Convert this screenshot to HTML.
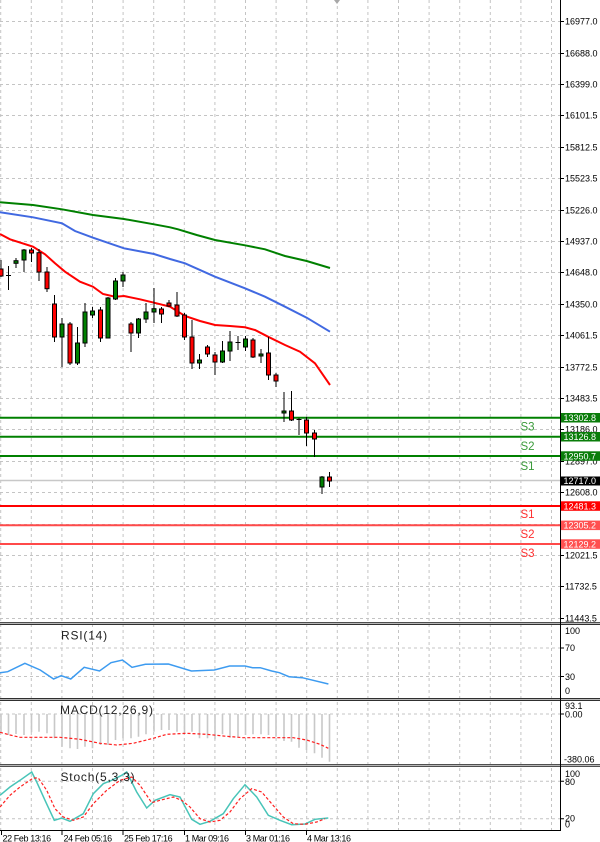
<!DOCTYPE html>
<html><head><meta charset="utf-8"><style>
html,body{margin:0;padding:0;background:#fff;}
svg{display:block;}
text{font-family:"Liberation Sans",sans-serif;}
.ax{font-size:9px;fill:#000;}
.bx{font-size:9px;fill:#fff;}
.pl{font-size:12px;fill:#222;letter-spacing:0.8px;}
.xl{font-size:9px;fill:#000;letter-spacing:-0.4px;}
</style></head><body>
<svg width="600" height="842" viewBox="0 0 600 842" xmlns="http://www.w3.org/2000/svg">
<rect width="600" height="842" fill="#fff"/>
<!-- vertical grid -->
<g stroke="#c4c4c4" stroke-width="1" stroke-dasharray="3,3" fill="none">
<path d="M0.7 0V830M31.3 0V830M61.9 0V830M92.5 0V830M123.1 0V830M153.7 0V830M184.3 0V830M214.9 0V830M245.5 0V830M276.1 0V830M306.7 0V830M337.3 0V830M367.9 0V830M398.5 0V830M429.1 0V830M459.7 0V830M490.3 0V830M520.9 0V830M551.5 0V830"/>
<path d="M0 21.5H560M0 53.5H560M0 84.5H560M0 115.5H560M0 147.5H560M0 178.5H560M0 210.5H560M0 241.5H560M0 272.5H560M0 304.5H560M0 335.5H560M0 367.5H560M0 398.5H560M0 429.5H560M0 461.5H560M0 492.5H560M0 524.5H560M0 555.5H560M0 586.5H560M0 618.5H560"/>
<path d="M0 648H560M0 676.5H560M0 714H560M0 781.3H560M0 818.7H560"/>
</g>
<!-- top marker -->
<path d="M334 0L340 0L337 4Z" fill="#a8a8a8"/>
<!-- moving averages -->
<polyline fill="none" stroke="#008000" stroke-width="2" points="0,202.3 33,205 62,209.3 93,215 124,219 154,224.3 170,227.3 178,229.3 196.7,235 215,240 245,245.3 265,249.3 285,256 306.7,261 330,268"/>
<polyline fill="none" stroke="#4169e1" stroke-width="2" points="0,212.3 33,217.3 62,223.3 75,231 93,237.7 124,248.3 154,254 170,259 185,263.3 215,276.7 245,288.3 265,296.7 285,306.7 306.7,317.7 330,331.7"/>
<polyline fill="none" stroke="#ff0000" stroke-width="2" points="0,234 10,239.3 33,246.7 45,254.3 55,263.3 65,271.7 80,281.7 93,286.7 103,294 115,296.7 124,296 140,299.3 154,302.7 170,306.7 185,316 200,321 215,325 230,326 245,327.3 255,330 268,336.7 285,345 300,351.7 315,363.3 330,385"/>
<!-- current price line -->
<line x1="0" y1="480.5" x2="560" y2="480.5" stroke="#c8c8c8" stroke-width="1.5"/>
<!-- S/R lines -->
<g stroke-width="2">
<line x1="0" y1="417.7" x2="560" y2="417.7" stroke="#008000"/>
<line x1="0" y1="436.7" x2="560" y2="436.7" stroke="#008000"/>
<line x1="0" y1="456" x2="560" y2="456" stroke="#008000"/>
<line x1="0" y1="506" x2="560" y2="506" stroke="#ff0000"/>
<line x1="0" y1="525.3" x2="560" y2="525.3" stroke="#ff4a4a"/>
<line x1="0" y1="544" x2="560" y2="544" stroke="#ff4a4a"/>
</g>
<!-- candles -->
<g stroke="#000" stroke-width="1">
<line x1="1" y1="260" x2="1" y2="277"/><rect x="-1" y="269" width="4" height="7" fill="#ff0000"/>
<line x1="8.5" y1="266" x2="8.5" y2="290"/><line x1="6" y1="275.5" x2="11" y2="275.5"/>
<line x1="16" y1="258" x2="16" y2="268"/><rect x="14" y="260.7" width="4" height="2.6" fill="#008000"/>
<line x1="24" y1="249" x2="24" y2="272"/><rect x="22" y="250" width="4" height="10" fill="#008000"/>
<line x1="31.5" y1="248" x2="31.5" y2="262"/><rect x="29.5" y="250" width="4" height="3" fill="#ff0000"/>
<line x1="39" y1="249" x2="39" y2="281"/><rect x="37" y="252.7" width="4" height="19.3" fill="#ff0000"/>
<line x1="47" y1="267" x2="47" y2="292"/><rect x="45" y="272" width="4" height="16.7" fill="#ff0000"/>
<line x1="54.5" y1="295" x2="54.5" y2="342"/><rect x="52.5" y="304" width="4" height="33" fill="#ff0000"/>
<line x1="62" y1="318" x2="62" y2="367"/><rect x="60" y="324" width="4" height="13" fill="#008000"/>
<line x1="70" y1="322" x2="70" y2="365"/><rect x="68" y="324" width="4" height="39" fill="#ff0000"/>
<line x1="77.5" y1="327" x2="77.5" y2="365"/><rect x="75.5" y="343" width="4" height="20" fill="#008000"/>
<line x1="85" y1="303" x2="85" y2="347"/><rect x="83" y="312" width="4" height="31" fill="#008000"/>
<line x1="92.5" y1="307" x2="92.5" y2="318"/><rect x="90.5" y="311" width="4" height="4" fill="#008000"/>
<line x1="100.5" y1="307" x2="100.5" y2="342"/><rect x="98.5" y="310" width="4" height="28" fill="#ff0000"/>
<line x1="108" y1="297" x2="108" y2="338"/><rect x="106" y="298" width="4" height="40" fill="#008000"/>
<line x1="115.5" y1="278" x2="115.5" y2="300"/><rect x="113.5" y="281" width="4" height="18" fill="#008000"/>
<line x1="123" y1="272" x2="123" y2="287"/><rect x="121" y="275" width="4" height="6" fill="#008000"/>
<line x1="131" y1="322" x2="131" y2="352"/><rect x="129" y="324" width="4" height="9" fill="#ff0000"/>
<line x1="138.5" y1="318" x2="138.5" y2="338"/><rect x="136.5" y="319" width="4" height="14" fill="#008000"/>
<line x1="146" y1="303" x2="146" y2="323"/><rect x="144" y="312" width="4" height="7" fill="#008000"/>
<line x1="154" y1="288" x2="154" y2="323"/><rect x="152" y="308.7" width="4" height="3.3" fill="#008000"/>
<line x1="161.5" y1="307" x2="161.5" y2="323"/><rect x="159.5" y="309" width="4" height="5" fill="#ff0000"/>
<line x1="169" y1="300" x2="169" y2="307"/><rect x="167" y="303" width="4" height="3" fill="#ff0000"/>
<line x1="177" y1="292" x2="177" y2="317"/><rect x="175" y="305" width="4" height="11" fill="#ff0000"/>
<line x1="184.5" y1="313" x2="184.5" y2="340"/><rect x="182.5" y="315" width="4" height="22" fill="#ff0000"/>
<line x1="192" y1="320" x2="192" y2="369"/><rect x="190" y="337" width="4" height="26" fill="#ff0000"/>
<line x1="199.5" y1="354" x2="199.5" y2="369"/><rect x="197.5" y="360" width="4" height="3" fill="#008000"/>
<line x1="207.5" y1="345" x2="207.5" y2="357"/><rect x="205.5" y="347" width="4" height="7" fill="#ff0000"/>
<line x1="215" y1="352" x2="215" y2="375"/><rect x="213" y="355" width="4" height="7" fill="#ff0000"/>
<line x1="222.5" y1="341" x2="222.5" y2="363"/><rect x="220.5" y="351" width="4" height="11" fill="#008000"/>
<line x1="230" y1="331" x2="230" y2="361"/><rect x="228" y="342" width="4" height="9" fill="#008000"/>
<line x1="238" y1="336" x2="238" y2="350"/><line x1="235.5" y1="342.5" x2="240.5" y2="342.5"/>
<line x1="245.5" y1="336" x2="245.5" y2="351"/><rect x="243.5" y="339" width="4" height="8" fill="#008000"/>
<line x1="253" y1="338" x2="253" y2="358"/><rect x="251" y="340" width="4" height="17" fill="#ff0000"/>
<line x1="261" y1="349" x2="261" y2="363"/><rect x="259" y="354" width="4" height="2" fill="#008000"/>
<line x1="268.5" y1="337" x2="268.5" y2="380"/><rect x="266.5" y="353" width="4" height="22" fill="#ff0000"/>
<line x1="276" y1="373" x2="276" y2="387"/><rect x="274" y="375" width="4" height="6" fill="#ff0000"/>
<line x1="284" y1="392" x2="284" y2="422"/><rect x="282" y="411" width="4" height="2" fill="#008000"/>
<line x1="291.5" y1="391" x2="291.5" y2="421"/><rect x="289.5" y="411" width="4" height="9" fill="#ff0000"/>
<line x1="299" y1="418" x2="299" y2="435"/><line x1="296.5" y1="419.5" x2="301.5" y2="419.5"/>
<line x1="306.5" y1="417" x2="306.5" y2="446"/><rect x="304.5" y="420" width="4" height="13" fill="#ff0000"/>
<line x1="314.5" y1="430" x2="314.5" y2="457"/><rect x="312.5" y="433" width="4" height="6" fill="#ff0000"/>
<line x1="322" y1="476" x2="322" y2="494"/><rect x="320" y="477" width="4" height="10" fill="#008000"/>
<line x1="329.5" y1="472" x2="329.5" y2="487"/><rect x="327.5" y="477" width="4" height="4" fill="#ff0000"/>
</g>
<!-- S labels -->
<g font-size="11.5" font-family="Liberation Sans, sans-serif">
<text x="520.5" y="430.7" fill="#3a9a3a">S3</text>
<text x="520.5" y="450" fill="#3a9a3a">S2</text>
<text x="520.5" y="470" fill="#3a9a3a">S1</text>
<text x="520.5" y="518" fill="#ff3030">S1</text>
<text x="520.5" y="538" fill="#ff3030">S2</text>
<text x="520.5" y="557" fill="#ff3030">S3</text>
</g>
<!-- RSI -->
<polyline fill="none" stroke="#3d9bf0" stroke-width="1.5" points="0,672.7 7.7,671.7 24.9,663.3 40.2,670 53.6,679 61.2,675.7 70.8,679 84.2,667.3 99.5,671 111,662.7 122.5,660 132,667.3 145.4,664.3 168.4,664 191.4,671 214.3,670 229.6,666 245,666 252.6,667.7 260.2,667.7 271.7,671 279.4,672.7 289,676.7 302.3,677.7 328.4,684"/>
<text class="pl" x="61" y="639.5">RSI(14)</text>
<!-- MACD histogram -->
<g stroke="#c8c8c8" stroke-width="1.6">
<path d="M1 714V733M8.5 714V735M16 714V734M24 714V735M31.5 714V732.3M39 714V731.7M47 714V733.3M54.5 714V738.3M62 714V746.7M70 714V748.3M77.5 714V749M85 714V746.7M92.5 714V748.3M100.5 714V745M108 714V745M115.5 714V740M123 714V738.3M131 714V738.3M138.5 714V736.7M146 714V734.3M154 714V731.7M161.5 714V730M169 714V730M177 714V731.7M184.5 714V733.3M192 714V731.7M199.5 714V738.3M207.5 714V738.3M215 714V739.3M222.5 714V734.3M230 714V737.7M238 714V736.7M245.5 714V735M253 714V734.3M261 714V734.3M268.5 714V735M276 714V736.7M284 714V741M291.5 714V741.7M299 714V747.7M306.5 714V750M314.5 714V753.3M322 714V757.7M329.5 714V761.7"/>
</g>
<polyline fill="none" stroke="#ff2020" stroke-width="1.2" stroke-dasharray="3,2" points="0,732.3 10,735 20,737.3 60,737.3 80,739.3 100,743.3 116.7,745 133.3,743.3 153.3,738.3 166.7,734.3 186.7,733.3 206.7,734.3 223.3,736 243.3,737.7 293.3,737.7 306.7,740 320,744.3 328.3,748.3"/>
<text class="pl" x="60" y="713.8">MACD(12,26,9)</text>
<!-- Stoch -->
<polyline fill="none" stroke="#48c4b8" stroke-width="1.5" points="0,795.3 10,787 20,780.3 31.7,772 36.7,782 45,800.3 54.3,820.3 61.7,818 70,821.3 83.3,813.7 93.3,793.7 103.3,783.7 111.7,780.3 121.7,775.3 126.7,772 136.7,792 146.7,808 155,800.3 170,794.7 180,797 191.7,819.3 200,824.3 210,821.3 223.3,813.7 233.3,798.7 245,784.7 256.7,797 268.3,815.3 280,820.3 291.7,824.7 305,824 315,819.3 328.3,818"/>
<polyline fill="none" stroke="#ff2020" stroke-width="1.2" stroke-dasharray="3,2" points="0,807 10,795.3 20,787 33.3,778 38.3,778 46.7,790.3 55,808.7 63.3,817 73.3,820.3 83.3,817 93.3,803.7 106.7,790.3 120,780.3 131.7,777 140,785.3 146.7,795.3 151.7,802.7 160,800.3 173.3,797 181.7,800.3 190,807 200,818.7 210,822 220,820.3 230,812 240,798.7 251.7,788.7 261.7,792 271.7,803.7 283.3,817 293.3,823.7 305,824.3 316.7,822 325,818.7"/>
<text class="pl" x="60.5" y="781">Stoch(5,3,3)</text>
<!-- separators -->
<g>
<rect x="0" y="622" width="600" height="1" fill="#505050"/>
<rect x="0" y="623" width="600" height="1" fill="#b8b8b8"/>
<rect x="0" y="624" width="600" height="1" fill="#303030"/>
<rect x="0" y="698" width="600" height="1" fill="#303030"/>
<rect x="0" y="699" width="600" height="1" fill="#b8b8b8"/>
<rect x="0" y="700" width="600" height="1" fill="#303030"/>
<rect x="0" y="764" width="600" height="1" fill="#505050"/>
<rect x="0" y="765" width="600" height="1" fill="#b8b8b8"/>
<rect x="0" y="766" width="600" height="1" fill="#505050"/>
</g>
<!-- axes -->
<line x1="560.5" y1="0" x2="560.5" y2="831" stroke="#000" stroke-width="1"/>
<line x1="0" y1="830.5" x2="561" y2="830.5" stroke="#000" stroke-width="1"/>
<g stroke="#000" stroke-width="1">
<path d="M1.5 830V835M62 830V835M123 830V835M184.5 830V835M245.5 830V835M306.5 830V835"/>
<path d="M560 21.5H564M560 53.5H564M560 84.5H564M560 115.5H564M560 147.5H564M560 178.5H564M560 210.5H564M560 241.5H564M560 272.5H564M560 304.5H564M560 335.5H564M560 367.5H564M560 398.5H564M560 429.5H564M560 461.5H564M560 492.5H564M560 524.5H564M560 555.5H564M560 586.5H564M560 618.5H564"/>
<path d="M560 648H564M560 676.5H564M560 714H564M560 781.3H564M560 818.7H564"/>
</g>
<!-- right axis labels -->
<g class="ax">
<text x="565" y="24.7">16977.0</text>
<text x="565" y="56.7">16688.0</text>
<text x="565" y="87.7">16399.0</text>
<text x="565" y="118.7">16101.5</text>
<text x="565" y="150.7">15812.5</text>
<text x="565" y="181.7">15523.5</text>
<text x="565" y="213.7">15226.0</text>
<text x="565" y="244.7">14937.0</text>
<text x="565" y="275.7">14648.0</text>
<text x="565" y="307.7">14350.0</text>
<text x="565" y="338.7">14061.5</text>
<text x="565" y="370.7">13772.5</text>
<text x="565" y="401.7">13483.5</text>
<text x="565" y="432.7">13186.0</text>
<text x="565" y="464.7">12897.0</text>
<text x="565" y="495.7">12608.0</text>
<text x="565" y="527.7">12319.0</text>
<text x="565" y="558.7">12021.5</text>
<text x="565" y="589.7">11732.5</text>
<text x="565" y="621.5">11443.5</text>
<text x="565" y="634">100</text>
<text x="565" y="651">70</text>
<text x="565" y="680">30</text>
<text x="565" y="694">0</text>
<text x="565" y="709">93.1</text>
<text x="565" y="717.5">0.00</text>
<text x="564" y="762.5">-380.06</text>
<text x="565" y="777">100</text>
<text x="565" y="785">80</text>
<text x="565" y="821.5">20</text>
<text x="565" y="827.5">0</text>
</g>
<!-- price boxes -->
<g>
<rect x="561" y="413" width="39" height="9.5" fill="#0a7d0a"/>
<rect x="561" y="432" width="39" height="9.5" fill="#0a7d0a"/>
<rect x="561" y="451.3" width="39" height="9.5" fill="#0a7d0a"/>
<rect x="561" y="476.5" width="39" height="9" fill="#000"/>
<rect x="561" y="501.3" width="39" height="9.5" fill="#ff0000"/>
<rect x="561" y="520.6" width="39" height="9.5" fill="#ff5050"/>
<rect x="561" y="539.3" width="39" height="9.5" fill="#ff5050"/>
</g>
<g class="bx">
<text x="563.5" y="421">13302.8</text>
<text x="563.5" y="440">13126.8</text>
<text x="563.5" y="459.3">12950.7</text>
<text x="563.5" y="484.2">12717.0</text>
<text x="563.5" y="509.3">12481.3</text>
<text x="563.5" y="528.6">12305.2</text>
<text x="563.5" y="547.3">12129.2</text>
</g>
<!-- x labels -->
<g class="xl">
<text x="2.5" y="841.5">22 Feb 13:16</text>
<text x="63.5" y="841.5">24 Feb 05:16</text>
<text x="124" y="841.5">25 Feb 17:16</text>
<text x="185" y="841.5">1 Mar 09:16</text>
<text x="246" y="841.5">3 Mar 01:16</text>
<text x="307" y="841.5">4 Mar 13:16</text>
</g>
</svg>
</body></html>
